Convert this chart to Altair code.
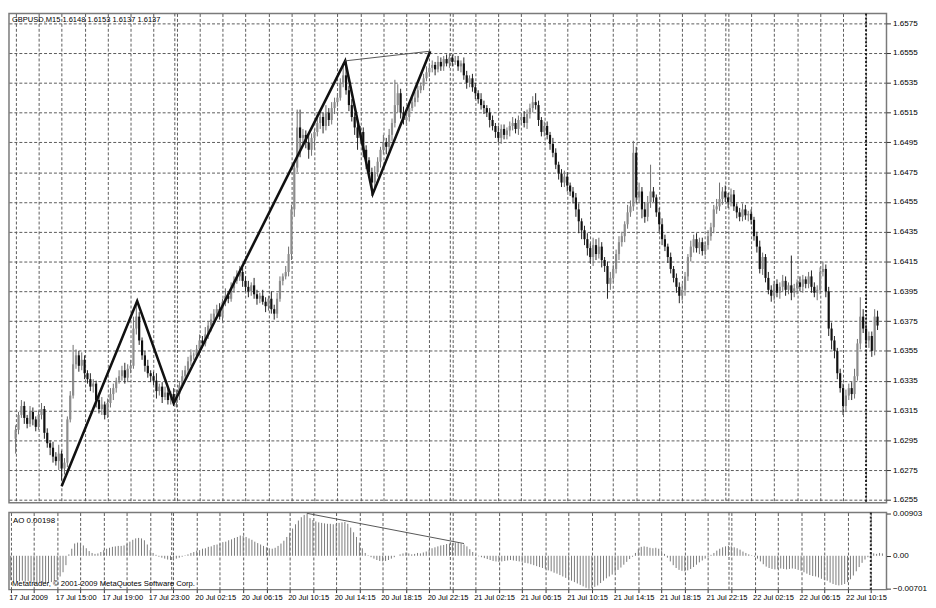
import altair as alt
import pandas as pd

# ---------------- data ----------------
header_text = "GBPUSD,M15  1.6148 1.6153 1.6137 1.6137"
ao_text = "AO 0.00198"
copyright_text = "Metatrader, \u00a9 2001-2009 MetaQuotes Software Corp."

time_labels = ["17 Jul 2009", "17 Jul 15:00", "17 Jul 19:00", "17 Jul 23:00",
               "20 Jul 02:15", "20 Jul 06:15", "20 Jul 10:15", "20 Jul 14:15",
               "20 Jul 18:15", "20 Jul 22:15", "21 Jul 02:15", "21 Jul 06:15",
               "21 Jul 10:15", "21 Jul 14:15", "21 Jul 18:15", "21 Jul 22:15",
               "22 Jul 02:15", "22 Jul 06:15", "22 Jul 10:15"]

price_ticks = [1.6255, 1.6275, 1.6295, 1.6315, 1.6335, 1.6355, 1.6375, 1.6395,
               1.6415, 1.6435, 1.6455, 1.6475, 1.6495, 1.6515, 1.6535, 1.6555, 1.6575]
ao_ticks = [-0.00701, 0.0, 0.00903]

first_open = 1.6296
closes = [
    1.6302, 1.6312, 1.6318, 1.6310, 1.6306, 1.6314, 1.6309, 1.6304, 1.6312, 1.6316,
    1.6300, 1.6293, 1.6290, 1.6284, 1.6281, 1.6286, 1.6276, 1.6280, 1.6309, 1.6325,
    1.6346, 1.6352, 1.6345, 1.6349, 1.6340, 1.6336, 1.6331, 1.6333, 1.6322, 1.6316,
    1.6319, 1.6312, 1.6320, 1.6326, 1.6330, 1.6335, 1.6338, 1.6342, 1.6337, 1.6343,
    1.6345, 1.6370, 1.6378, 1.6362, 1.6352, 1.6345, 1.6340, 1.6338, 1.6335, 1.6328,
    1.6331, 1.6324, 1.6327, 1.6322, 1.6326, 1.6320, 1.6326, 1.6332, 1.6338, 1.6342,
    1.6348, 1.6352, 1.6352, 1.6356, 1.6362, 1.6360, 1.6366, 1.6372, 1.6376, 1.6380,
    1.6383, 1.6378, 1.6388, 1.6392, 1.6390, 1.6397, 1.6402, 1.6405, 1.6408, 1.6402,
    1.6398, 1.6395, 1.6399, 1.6393, 1.6390, 1.6392, 1.6388, 1.6385, 1.6390, 1.6383,
    1.6380, 1.6390, 1.6402, 1.6405, 1.6408, 1.6420, 1.6450, 1.6478, 1.6505, 1.6498,
    1.6500, 1.6495, 1.6490, 1.6498, 1.6502, 1.6508, 1.6512, 1.6506, 1.6515, 1.6510,
    1.6518, 1.6522, 1.6525, 1.6535, 1.6540, 1.6530, 1.6520, 1.6512, 1.6505, 1.6498,
    1.6502, 1.6490, 1.6483, 1.6475, 1.6468, 1.6475, 1.6482, 1.6490, 1.6495, 1.6492,
    1.6500, 1.6508, 1.6520, 1.6528, 1.6515, 1.6510, 1.6512, 1.6518, 1.6522, 1.6525,
    1.6530, 1.6533, 1.6538, 1.6542, 1.6545, 1.6547, 1.6544, 1.6549, 1.6546, 1.6551,
    1.6548, 1.6552, 1.6549, 1.6550, 1.6546, 1.6548, 1.6540, 1.6535, 1.6538, 1.6532,
    1.6528, 1.6524, 1.6520, 1.6518, 1.6515, 1.6510, 1.6506, 1.6502, 1.6498, 1.6504,
    1.6500, 1.6503, 1.6506, 1.6508, 1.6504, 1.6510, 1.6512, 1.6508, 1.6514, 1.6518,
    1.6522, 1.6520, 1.6510, 1.6502, 1.6506, 1.6500, 1.6494, 1.6488, 1.6480, 1.6474,
    1.6468, 1.6472, 1.6466, 1.6462, 1.6458, 1.6450, 1.6442, 1.6436, 1.6430, 1.6424,
    1.6418, 1.6426, 1.6420, 1.6425, 1.6416, 1.6412, 1.6400, 1.6404, 1.6410, 1.6420,
    1.6428, 1.6432, 1.6440, 1.6448, 1.6452, 1.6488, 1.6458, 1.6462, 1.6450, 1.6445,
    1.6455, 1.6462, 1.6458, 1.6448, 1.6440, 1.6430, 1.6425, 1.6418, 1.6410, 1.6404,
    1.6398, 1.6392, 1.6396, 1.6405, 1.6418, 1.6425, 1.6430, 1.6424, 1.6428, 1.6422,
    1.6426, 1.6432, 1.6438, 1.6450, 1.6452, 1.6457, 1.6462, 1.6458, 1.6455, 1.6460,
    1.6452, 1.6448, 1.6445, 1.6450, 1.6446, 1.6447, 1.6443, 1.6432, 1.6425, 1.6410,
    1.6418, 1.6404, 1.6396, 1.6392, 1.6400, 1.6394, 1.6398, 1.6402, 1.6396, 1.6399,
    1.6394, 1.6397, 1.6401, 1.6398, 1.6403, 1.6400, 1.6405, 1.6398, 1.6394, 1.6396,
    1.6408, 1.6410, 1.6395, 1.6370, 1.6362, 1.6355, 1.6340, 1.6330, 1.6318, 1.6325,
    1.6330, 1.6326, 1.6338, 1.6360, 1.6378, 1.6370, 1.6362, 1.6365, 1.6355, 1.6378,
    1.6372,
]

# wick lengths in pips above / below the candle body
upper_wick = [
    3, 2, 4, 3, 2, 4, 3, 2, 3, 4, 2, 3, 2, 4, 3, 6, 2, 3, 2, 3,
    13, 4, 3, 5, 3, 2, 4, 3, 2, 3, 5, 2, 3, 4, 3, 2, 4, 3, 5, 3,
    4, 8, 10, 3, 2, 3, 4, 2, 3, 5, 2, 3, 4, 3, 2, 4, 3, 2, 4, 3,
    3, 4, 2, 3, 4, 3, 5, 3, 4, 3, 3, 4, 2, 5, 3, 4, 3, 4, 4, 3,
    3, 4, 2, 5, 3, 2, 4, 3, 2, 5, 3, 4, 3, 2, 4, 5, 3, 3, 12, 12,
    4, 3, 5, 3, 2, 6, 4, 3, 5, 3, 4, 3, 3, 3, 8, 10, 3, 4, 3, 5,
    4, 3, 3, 2, 3, 4, 3, 2, 5, 3, 4, 3, 17, 6, 3, 4, 3, 2, 3, 4,
    3, 2, 3, 4, 3, 3, 2, 4, 3, 2, 3, 3, 2, 3, 3, 2, 4, 3, 2, 3,
    3, 2, 4, 3, 2, 3, 3, 2, 4, 3, 3, 2, 3, 4, 3, 3, 2, 4, 3, 3,
    4, 6, 3, 2, 3, 3, 2, 4, 3, 2, 3, 4, 3, 2, 3, 3, 4, 2, 3, 4,
    3, 5, 4, 6, 3, 2, 3, 4, 3, 3, 4, 3, 2, 5, 4, 8, 4, 6, 3, 5,
    4, 18, 3, 2, 3, 4, 3, 2, 3, 2, 3, 3, 4, 3, 2, 4, 3, 4, 3, 3,
    2, 4, 3, 3, 5, 11, 3, 4, 3, 4, 3, 2, 3, 4, 3, 2, 3, 2, 3, 4,
    3, 2, 4, 3, 2, 3, 3, 4, 3, 2, 20, 3, 2, 4, 3, 2, 3, 4, 3, 3,
    3, 5, 3, 3, 4, 3, 2, 3, 3, 4, 3, 4, 5, 3, 13, 5, 4, 3, 3, 5,
    4,
]
lower_wick = [
    10, 3, 2, 4, 3, 2, 4, 3, 2, 3, 4, 3, 5, 4, 3, 6, 8, 4, 3, 2,
    2, 3, 4, 3, 4, 3, 3, 4, 5, 3, 4, 3, 2, 3, 4, 3, 2, 3, 4, 3,
    3, 2, 4, 3, 3, 4, 3, 4, 3, 5, 3, 4, 2, 3, 3, 2, 3, 4, 2, 3,
    4, 3, 3, 2, 4, 3, 2, 3, 4, 3, 3, 2, 4, 3, 3, 2, 3, 2, 3, 4,
    3, 4, 3, 3, 4, 3, 2, 4, 3, 3, 4, 3, 2, 3, 2, 3, 4, 5, 3, 13,
    5, 4, 6, 4, 8, 3, 4, 5, 3, 4, 3, 4, 3, 2, 3, 3, 4, 3, 5, 8,
    4, 5, 6, 3, 9, 4, 3, 4, 3, 5, 3, 4, 3, 5, 4, 3, 4, 3, 2, 3,
    3, 2, 3, 2, 3, 3, 4, 2, 3, 3, 2, 3, 3, 2, 3, 4, 3, 4, 3, 3,
    4, 3, 3, 4, 3, 5, 3, 4, 3, 4, 3, 3, 4, 3, 3, 4, 3, 3, 4, 3,
    3, 3, 4, 3, 3, 3, 4, 3, 3, 4, 3, 3, 4, 3, 4, 5, 8, 6, 4, 5,
    4, 6, 4, 3, 5, 4, 10, 4, 3, 3, 4, 3, 4, 3, 3, 3, 4, 3, 6, 4,
    3, 4, 3, 3, 5, 4, 3, 4, 3, 3, 4, 5, 3, 4, 3, 3, 4, 3, 4, 3,
    3, 3, 3, 4, 3, 3, 4, 3, 4, 3, 3, 4, 3, 3, 3, 4, 3, 3, 4, 3,
    4, 3, 3, 4, 3, 3, 4, 3, 4, 3, 5, 3, 4, 3, 4, 3, 3, 4, 3, 5,
    3, 3, 4, 5, 6, 5, 4, 3, 6, 4, 3, 4, 3, 3, 4, 3, 4, 5, 4, 3,
    3,
]

ao_values = [
    -0.0052, -0.0054, -0.0055, -0.0054, -0.0053, -0.0055, -0.0054, -0.0055, -0.0056, -0.0057,
    -0.0058, -0.0058, -0.0059, -0.0058, -0.0056, -0.0054, -0.0050, -0.0044, -0.0035, -0.0020,
    0.0003, 0.0015, 0.0026, 0.0028, 0.0027, 0.0022, 0.0016, 0.0010, 0.0006, 0.0004,
    0.0005, 0.0008, 0.0012, 0.0015, 0.0017, 0.0019, 0.0020, 0.0021, 0.0021, 0.0022,
    0.0025, 0.0030, 0.0034, 0.0037, 0.0038, 0.0037, 0.0033, 0.0024, 0.0012, 0.0006,
    0.0002, -0.0002, -0.0004, -0.0006, -0.0008, -0.0009, -0.0008, -0.0006, -0.0004, -0.0002,
    0.0001, 0.0003, 0.0006, 0.0008, 0.0011, 0.0012, 0.0015, 0.0016, 0.0019, 0.0020,
    0.0023, 0.0024, 0.0026, 0.0029, 0.0030, 0.0033, 0.0035, 0.0038, 0.0040, 0.0043,
    0.0042, 0.0040, 0.0037, 0.0034, 0.0030, 0.0027, 0.0024, 0.0021, 0.0018, 0.0016,
    0.0015, 0.0017, 0.0021, 0.0026, 0.0032, 0.0040, 0.0049, 0.0058, 0.0067, 0.0075,
    0.0082, 0.0087, 0.00903, 0.0080, 0.0076, 0.0073, 0.0071, 0.0070, 0.0069, 0.0068,
    0.0068, 0.0067, 0.0068, 0.0070, 0.0071, 0.0072, 0.0068, 0.0060, 0.0050, 0.0040,
    0.0028, 0.0016, 0.0006, 0.0001, -0.0003, -0.0006, -0.0009, -0.0011, -0.0012, -0.0011,
    -0.0009, -0.0006, -0.0003, 0.0000, 0.0003, 0.0005, 0.0007, 0.0005, 0.0003, 0.0004,
    0.0006, 0.0005, 0.0007, 0.0009, 0.0013, 0.0016, 0.0018, 0.0020, 0.0022, 0.0023,
    0.0025, 0.0026, 0.0027, 0.0028, 0.0027, 0.0026, 0.0024, 0.0020, 0.0014, 0.0008,
    0.0003, -0.0001, -0.0003, -0.0005, -0.0007, -0.0009, -0.0011, -0.0012, -0.0013, -0.0012,
    -0.0011, -0.0010, -0.0009, -0.0010, -0.0011, -0.0012, -0.0013, -0.0015, -0.0016, -0.0018,
    -0.0020, -0.0022, -0.0024, -0.0026, -0.0028, -0.0031, -0.0033, -0.0036, -0.0038, -0.0041,
    -0.0044, -0.0047, -0.0050, -0.0053, -0.0056, -0.0059, -0.0062, -0.0065, -0.0068, -0.00701,
    -0.0069, -0.0066, -0.0063, -0.0058, -0.0053, -0.0048, -0.0044, -0.0040, -0.0035, -0.0030,
    -0.0025, -0.0019, -0.0013, -0.0007, -0.0002, 0.0006, 0.0014, 0.0019, 0.0020, 0.0019,
    0.0017, 0.0016, 0.0017, 0.0015, 0.0010, 0.0004, -0.0004, -0.0012, -0.0020, -0.0026,
    -0.0030, -0.0032, -0.0033, -0.0031, -0.0028, -0.0024, -0.0019, -0.0014, -0.0010, -0.0006,
    -0.0002, 0.0002, 0.0006, 0.0011, 0.0015, 0.0018, 0.0020, 0.0021, 0.0020, 0.0018,
    0.0016, 0.0013, 0.0009, 0.0006, 0.0003, 0.0001, -0.0002, -0.0006, -0.0012, -0.0018,
    -0.0023, -0.0026, -0.0028, -0.0029, -0.0028, -0.0027, -0.0028, -0.0029, -0.0028, -0.0027,
    -0.0028, -0.0030, -0.0032, -0.0035, -0.0038, -0.0041, -0.0043, -0.0044, -0.0046, -0.0049,
    -0.0051, -0.0053, -0.0057, -0.0060, -0.0062, -0.0063, -0.0062, -0.0060, -0.0056, -0.0050,
    -0.0042, -0.0033, -0.0024, -0.0015, -0.0008, -0.0003, 0.0003, 0.0005, 0.0004, 0.0006,
    0.0005,
]

# hand-drawn analysis lines (bar index, price / AO value)
zigzag_bars = [16, 42.3, 55, 114.7, 124.3, 144.3]
zigzag_prices = [1.62641, 1.63885, 1.63198, 1.65497, 1.64604, 1.65562]
top_line_bars = [114.7, 144.3]
top_line_prices = [1.65497, 1.65562]
ao_line_bars = [102, 156]
ao_line_values = [0.00903, 0.0026]
day_breaks = [55.4, 151.3, 247.2]
cursor_bar = [296]

# ---------------- build tables ----------------
rows = []
prev = first_open
for i, c in enumerate(closes):
    o = prev
    uw = upper_wick[i] if i < len(upper_wick) else 3
    lw = lower_wick[i] if i < len(lower_wick) else 3
    lo_b, hi_b = min(o, c), max(o, c)
    if hi_b - lo_b < 0.00004:
        hi_b = lo_b + 0.00004
    rows.append({"i": i, "lo": min(o, c) - lw * 0.0001, "hi": max(o, c) + uw * 0.0001,
                 "blo": lo_b, "bhi": hi_b, "d": "up" if c >= o else "down"})
    prev = c
candles = pd.DataFrame(rows)
ao_df = pd.DataFrame({"i": list(range(len(ao_values))), "v": ao_values,
                      "z": [0.0] * len(ao_values)})
zz_df = pd.DataFrame({"i": zigzag_bars, "p": zigzag_prices})
tl_df = pd.DataFrame({"i": top_line_bars, "p": top_line_prices})
aol_df = pd.DataFrame({"i": ao_line_bars, "v": ao_line_values})
brk_df = pd.DataFrame({"i": day_breaks})
cur_df = pd.DataFrame({"i": cursor_bar})

FONT = "Liberation Sans"
W = 888
grid_vals = list(range(0, 301, 8))
xscale = alt.Scale(domain=[-0.6, 301.4], nice=False, zero=False)
label_arr = "[" + ",".join("'" + s + "'" for s in time_labels) + "]"
label_expr = "datum.value % 16 == 0 ? " + label_arr + "[datum.value / 16] : ''"

x_main_axis = alt.Axis(values=grid_vals, labels=False, ticks=False, domain=False,
                       grid=True, title="")
x_ao_axis = alt.Axis(values=grid_vals, labelExpr=label_expr, labelAlign="left",
                     labelFlush=False, labelOverlap=False, grid=True, title="",
                     domain=False, tickSize=3, labelPadding=1, labelOffset=-2,
                     labelFontSize=7.6)


def xm(field="i"):
    return alt.X(field + ":Q", scale=xscale, axis=x_main_axis)


def xa(field="i"):
    return alt.X(field + ":Q", scale=xscale, axis=x_ao_axis)


yscale = alt.Scale(domain=[1.62531, 1.65815], nice=False, zero=False)
y_main_axis = alt.Axis(orient="right", values=price_ticks, format=".4f", grid=True,
                       title="", tickSize=4, labelPadding=2, domain=False)


def ym(field):
    return alt.Y(field + ":Q", scale=yscale, axis=y_main_axis)


aoscale = alt.Scale(domain=[-0.0072, 0.0092], nice=False, zero=False)
y_ao_axis = alt.Axis(orient="right", values=ao_ticks, grid=False, title="",
                     tickSize=4, labelPadding=2, domain=False,
                     labelExpr="datum.value == 0 ? '0.00' : format(datum.value, '.5f')")


def ya(field):
    return alt.Y(field + ":Q", scale=aoscale, axis=y_ao_axis)


# ---------------- main price pane ----------------
breaks_main = alt.Chart(brk_df).mark_rule(color="#555555", strokeWidth=1,
                                          strokeDash=[3, 2]).encode(x=xm())
cursor_main = alt.Chart(cur_df).mark_rule(color="#222222", strokeWidth=2,
                                          strokeDash=[2, 2]).encode(x=xm())
wicks = alt.Chart(candles).mark_rule(strokeWidth=1).encode(
    x=xm(), y=ym("lo"), y2="hi:Q",
    color=alt.condition("datum.d == 'up'", alt.value("#6e6e6e"), alt.value("#222222")))
bodies = alt.Chart(candles).mark_bar(size=2.2).encode(
    x=xm(), y=ym("blo"), y2="bhi:Q",
    color=alt.condition("datum.d == 'up'", alt.value("#8c8c8c"), alt.value("#111111")))
zigzag = alt.Chart(zz_df).mark_line(color="#111111", strokeWidth=2.6).encode(
    x=xm(), y=ym("p"), order="i:Q")
topline = alt.Chart(tl_df).mark_line(color="#555555", strokeWidth=1).encode(
    x=xm(), y=ym("p"))
header = alt.Chart(pd.DataFrame({"t": [header_text]})).mark_text(
    align="left", baseline="top", font=FONT, fontSize=7.6, color="#000000").encode(
    x=alt.value(3), y=alt.value(3), text="t:N")

main = alt.layer(breaks_main, cursor_main, wicks, bodies, zigzag, topline, header).properties(
    width=W, height=495)

# ---------------- AO pane ----------------
breaks_ao = alt.Chart(brk_df).mark_rule(color="#555555", strokeWidth=1,
                                        strokeDash=[3, 2]).encode(x=xa())
cursor_ao = alt.Chart(cur_df).mark_rule(color="#222222", strokeWidth=2,
                                        strokeDash=[2, 2]).encode(x=xa())
ao_bars = alt.Chart(ao_df).mark_rule(color="#7a7a7a", strokeWidth=1).encode(
    x=xa(), y=ya("v"), y2="z:Q")
ao_line = alt.Chart(aol_df).mark_line(color="#555555", strokeWidth=1).encode(
    x=xa(), y=ya("v"))
ao_label = alt.Chart(pd.DataFrame({"t": [ao_text]})).mark_text(
    align="left", baseline="top", font=FONT, fontSize=8, color="#000000").encode(
    x=alt.value(4), y=alt.value(5), text="t:N")
copy_label = alt.Chart(pd.DataFrame({"t": [copyright_text]})).mark_text(
    align="left", baseline="bottom", font=FONT, fontSize=7.8, color="#000000").encode(
    x=alt.value(3), y=alt.value(76), text="t:N")

aoc = alt.layer(breaks_ao, cursor_ao, ao_bars, ao_line, ao_label, copy_label).properties(
    width=W, height=78)

chart = alt.vconcat(main, aoc, spacing=3).properties(
    padding={"left": 0, "top": 0, "right": 0, "bottom": 0},
    background="#ffffff",
).configure_view(
    stroke="#7a7a7a", strokeWidth=1.5
).configure_axis(
    labelFont=FONT, labelFontSize=8.2, labelColor="#000000",
    tickColor="#333333", gridColor="#5a5a5a", gridDash=[3, 2],
    gridOpacity=1, gridWidth=1
)

chart.save("out.html", embed_options={"renderer": "svg", "actions": False})
